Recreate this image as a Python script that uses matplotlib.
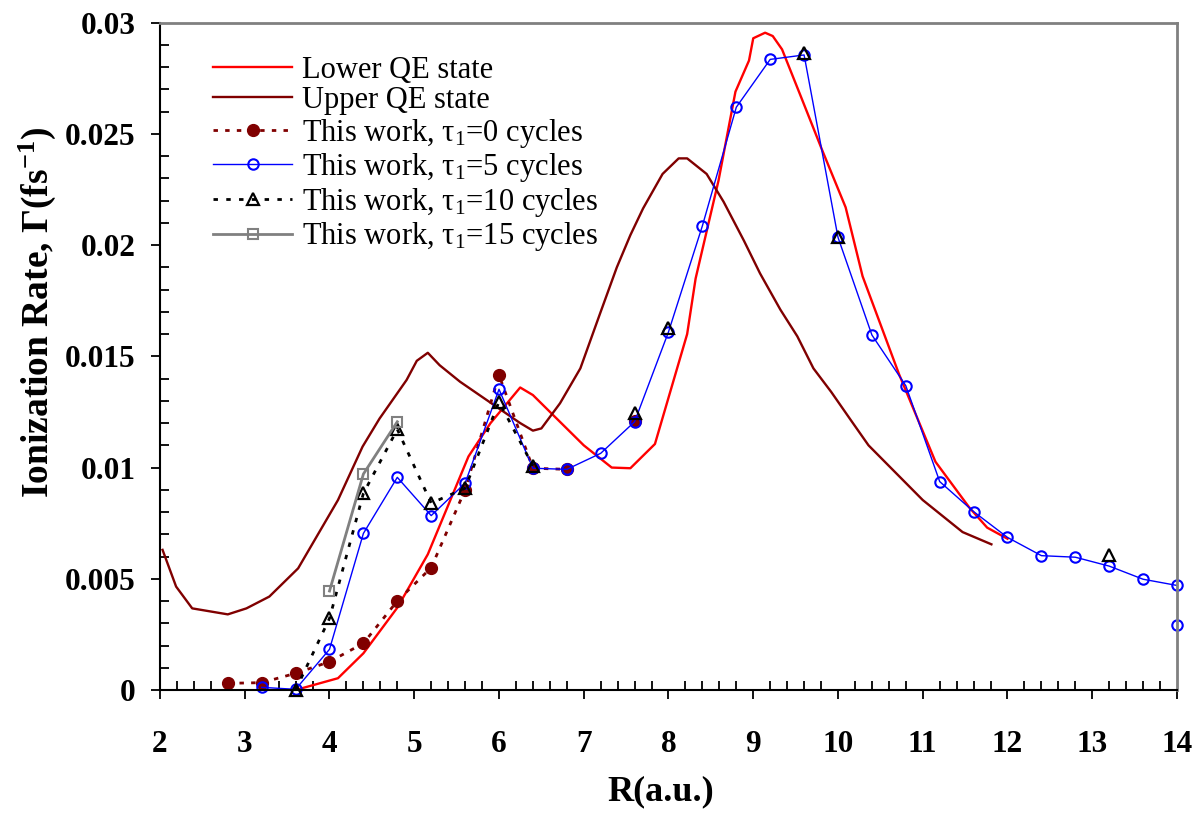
"""Ionization rate vs internuclear distance R, QE states and time-dependent results."""
import numpy as np
import matplotlib
matplotlib.use("Agg")
import matplotlib.pyplot as plt

plt.rcParams["font.family"] = ["Liberation Serif", "DejaVu Serif"]
plt.rcParams["mathtext.fontset"] = "custom"
plt.rcParams["mathtext.rm"] = "Liberation Serif"
plt.rcParams["mathtext.it"] = "Liberation Serif:italic"
plt.rcParams["mathtext.bf"] = "Liberation Serif:bold"

# Lower QE state (red)
R_LOWER = [3.6, 4.1, 4.4, 4.8, 5.16, 5.64, 5.9, 6.25, 6.4, 7.0, 7.33, 7.55, 7.84,
           8.22, 8.32, 8.59, 8.79, 8.95, 9.0, 9.14, 9.23, 9.34, 9.56, 9.81, 10.09,
           10.29, 10.72, 11.15, 11.55, 11.76, 12.0]
G_LOWER = [0.0, 0.00053, 0.00165, 0.0037, 0.0061, 0.0105, 0.0120, 0.0136, 0.01326,
           0.0110, 0.0100, 0.00997, 0.01106, 0.0160, 0.0185, 0.0229, 0.0269, 0.0283,
           0.0293, 0.02955, 0.0294, 0.0288, 0.0267, 0.0243, 0.0217, 0.0186, 0.0142,
           0.01026, 0.0082, 0.0073, 0.0068]

# Upper QE state (dark red)
R_UPPER = [2.03, 2.19, 2.38, 2.80, 3.02, 3.29, 3.63, 4.10, 4.39, 4.59, 4.91, 5.03,
           5.16, 5.30, 5.54, 6.25, 6.40, 6.50, 6.72, 6.96, 7.19, 7.39, 7.55, 7.70,
           7.93, 8.12, 8.22, 8.45, 8.65, 8.89, 9.08, 9.32, 9.52, 9.71, 9.92, 10.15,
           10.36, 11.0, 11.47, 11.81]
G_UPPER = [0.0063, 0.00465, 0.00367, 0.0034, 0.00367, 0.0042, 0.00547, 0.00854,
           0.01094, 0.0122, 0.01394, 0.0148, 0.01516, 0.0146, 0.01386, 0.0120,
           0.01166, 0.01176, 0.01289, 0.01446, 0.0169, 0.0190, 0.02045, 0.02165,
           0.0232, 0.0239, 0.0239, 0.0232, 0.02195, 0.0202, 0.01873, 0.0171, 0.0159,
           0.01446, 0.0134, 0.01214, 0.0110, 0.00854, 0.0071, 0.00655]

# This work, tau1 = 0 cycles (nan = gap in line)
R_T0 = [2.8, 3.2, 3.6, 4.0, 4.4, 4.8, 5.2, 5.6, 6.0, 6.4, 6.8, 7.2, 7.6]
G_T0 = [0.0003, 0.00033, 0.00075, 0.00127, 0.0021, 0.0040, 0.0055, 0.0090, 0.01416,
        0.00997, 0.00992, np.nan, 0.0121]

# This work, tau1 = 5 cycles
R_T5 = [3.2, 3.6, 4.0, 4.4, 4.8, 5.2, 5.6, 6.0, 6.4, 6.8, 7.2, 7.6, 8.0, 8.4, 8.8,
        9.2, 9.6, 10.0, 10.4, 10.8, 11.2, 11.6, 12.0, 12.4, 12.8, 13.2, 13.6, 14.0]
G_T5 = [0.00012, 0.00003, 0.00183, 0.00704, 0.00956, 0.00784, 0.0093, 0.01352,
        0.00997, 0.00992, 0.01064, 0.01206, 0.0161, 0.02087, 0.0262, 0.02835,
        0.02855, 0.02035, 0.01596, 0.01368, 0.00937, 0.00802, 0.00686, 0.00604,
        0.00597, 0.00557, 0.00498, 0.0047]
R_T5_EXTRA = [14.0]
G_T5_EXTRA = [0.0029]

# This work, tau1 = 10 cycles (first N_T10_LINKED points joined by a line)
R_T10 = [3.6, 4.0, 4.4, 4.8, 5.2, 5.6, 6.0, 6.4, 7.6, 8.0, 9.6, 10.0, 13.2]
G_T10 = [0.0, 0.00322, 0.00884, 0.01172, 0.0084, 0.00907, 0.01296, 0.01008,
         0.01244, 0.01626, 0.02862, 0.02035, 0.00607]
N_T10_LINKED = 8

# This work, tau1 = 15 cycles
R_T15 = [4.0, 4.4, 4.8]
G_T15 = [0.00445, 0.00971, 0.01206]

DARK_RED = "#800000"

fig = plt.figure(figsize=(11.99, 8.17), dpi=100)
ax = fig.add_axes([160 / 1199, 127 / 817, 1017 / 1199, 667.3 / 817])

ax.plot(R_LOWER, G_LOWER, color="#ff0000", lw=1.7, label="Lower QE state")
ax.plot(R_UPPER, G_UPPER, color=DARK_RED, lw=1.7, label="Upper QE state")
ax.plot(R_T0, G_T0, color=DARK_RED, lw=2.0, ls=(0, (1.6, 2.6)), marker="o", ms=8.5,
        mfc=DARK_RED, mec=DARK_RED, clip_on=False,
        label=r"This work, τ$_1$=0 cycles")
ax.plot(R_T5, G_T5, color="#0000ff", lw=1.0, marker="o", ms=7.5, mfc="none",
        mec="#0000ff", mew=1.5, clip_on=False, label=r"This work, τ$_1$=5 cycles")
ax.plot(R_T5_EXTRA, G_T5_EXTRA, ls="none", marker="o", ms=7.5, mfc="none",
        mec="#0000ff", mew=1.5, clip_on=False)
ax.plot(R_T10[:N_T10_LINKED], G_T10[:N_T10_LINKED], color="black", lw=2.0,
        ls=(0, (1.6, 3.0)), marker="^", ms=9, mfc="none", mec="black", mew=1.6,
        clip_on=False, label=r"This work, τ$_1$=10 cycles")
ax.plot(R_T10[N_T10_LINKED:], G_T10[N_T10_LINKED:], ls="none", marker="^", ms=9,
        mfc="none", mec="black", mew=1.6, clip_on=False)
ax.plot(R_T15, G_T15, color="#808080", lw=2.0, marker="s", ms=7.5, mfc="none",
        mec="#808080", mew=1.5, clip_on=False, label=r"This work, τ$_1$=15 cycles")

ax.set_xlim(2, 14)
ax.set_ylim(0, 0.03)
ax.set_xticks(np.arange(2, 15, 1))
ax.set_xticks(np.arange(2, 14.01, 0.2), minor=True)
ax.set_yticks([0, 0.005, 0.01, 0.015, 0.02, 0.025, 0.03])
ax.set_yticklabels(["0", "0.005", "0.01", "0.015", "0.02", "0.025", "0.03"])
ax.set_yticks(np.arange(0, 0.0301, 0.001), minor=True)

ax.tick_params(which="major", direction="out", length=6.5, width=1.3)
ax.tick_params(which="minor", direction="in", length=6.5, width=1.3)
ax.tick_params(axis="x", which="major", pad=22)
ax.tick_params(axis="y", which="major", pad=11)
for lab in ax.get_xticklabels() + ax.get_yticklabels():
    lab.set_fontsize(22.5)
    lab.set_fontweight("bold")

for side in ("left", "bottom"):
    ax.spines[side].set_color("black")
    ax.spines[side].set_linewidth(1.5)
for side in ("top", "right"):
    ax.spines[side].set_color("#808080")
    ax.spines[side].set_linewidth(2.0)

ax.set_xlabel("R(a.u.)", fontsize=26, fontweight="bold")
ax.xaxis.set_label_coords(0.4926, -0.1274, transform=ax.transAxes)
ax.set_ylabel(r"Ionization Rate, Γ(fs$^{\mathbf{-1}}$)", fontsize=27,
              fontweight="bold")
ax.yaxis.set_label_coords(-0.100, 0.5665, transform=ax.transAxes)

ax.legend(loc="upper left", bbox_to_anchor=(0.04, 0.969), frameon=False,
          fontsize=22, handlelength=2.6, handletextpad=0.3, labelspacing=0.05,
          borderaxespad=0.0)

fig.savefig("out.png", dpi=100)
